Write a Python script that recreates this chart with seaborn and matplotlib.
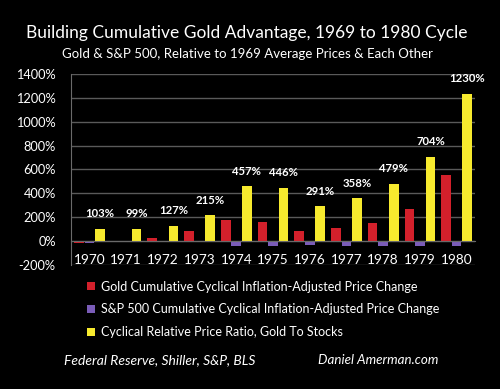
import pandas as pd
import seaborn as sns
import matplotlib.pyplot as plt
from matplotlib.ticker import FuncFormatter, FixedLocator

years = ['1970', '1971', '1972', '1973', '1974', '1975', '1976', '1977', '1978', '1979', '1980']
gold = [-15, -12, 22, 88, 180, 160, 88, 112, 153, 266, 555]
sp500 = [-15, -5, -3, -5, -40, -40, -30, -40, -40, -40, -40]
ratio = [103, 99, 127, 215, 457, 446, 291, 358, 479, 704, 1230]

series_names = [
    'Gold Cumulative Cyclical Inflation-Adjusted Price Change',
    'S&P 500 Cumulative Cyclical Inflation-Adjusted Price Change',
    'Cyclical Relative Price Ratio, Gold To Stocks',
]
colors = ['#d3202b', '#7a5cb8', '#f7ea2e']

df = pd.DataFrame({'year': years, series_names[0]: gold,
                   series_names[1]: sp500, series_names[2]: ratio})
long_df = df.melt(id_vars='year', var_name='series', value_name='value')

sns.set_style('dark')
plt.rcParams['font.family'] = ['Lato', 'DejaVu Sans']

fig = plt.figure(figsize=(5, 3.89), dpi=100, facecolor='black')
ax = fig.add_axes([0.142, 0.319, 0.808, 0.491])
ax.set_facecolor('black')

sns.barplot(data=long_df, x='year', y='value', hue='series', hue_order=series_names,
            palette=colors, width=0.86, gap=0.08, ax=ax, legend=True,
            edgecolor='none', saturation=1)

ax.set_ylim(-200, 1400)
ax.set_yticks(range(-200, 1401, 200))
ax.yaxis.set_major_formatter(FuncFormatter(lambda v, p: f'{int(v)}%'))
ax.grid(axis='y', color='#5a5a5a', linewidth=1)
ax.grid(axis='x', visible=False)
ax.set_axisbelow(True)
ax.set_xlabel('')
ax.set_ylabel('')

for s in ['top', 'right']:
    ax.spines[s].set_visible(False)
ax.spines['left'].set_color('#6a6a6a')
ax.spines['bottom'].set_position(('data', 0))
ax.spines['bottom'].set_color('#6a6a6a')

ax.tick_params(axis='y', colors='white', labelsize=9.2, length=0, pad=11)
ax.tick_params(axis='x', colors='white', labelsize=9.8, length=0, pad=9)
ax.xaxis.set_minor_locator(FixedLocator([i - 0.5 for i in range(len(years) + 1)]))
ax.tick_params(axis='x', which='minor', length=3, color='#6a6a6a', direction='out')

# value labels above the ratio bars
ratio_bars = ax.containers[2]
ax.bar_label(ratio_bars, labels=[f'{v}%' for v in ratio], color='white',
             fontsize=8.2, fontweight='bold', padding=7)

handles, labels = ax.get_legend_handles_labels()
ax.legend(handles, labels, loc='upper left', bbox_to_anchor=(0.152, 0.307),
          bbox_transform=fig.transFigure, frameon=False, labelcolor='white',
          fontsize=9, handlelength=0.6, handleheight=0.6, handletextpad=0.5,
          labelspacing=0.85)

fig.text(0.494, 0.915, 'Building Cumulative Gold Advantage, 1969 to 1980 Cycle',
         color='white', fontsize=12.5, ha='center', va='center')
fig.text(0.494, 0.862, 'Gold & S&P 500, Relative to 1969 Average Prices & Each Other',
         color='white', fontsize=9.5, ha='center', va='center')
fig.text(0.128, 0.075, 'Federal Reserve, Shiller, S&P, BLS', color='white',
         fontsize=10, style='italic', ha='left', va='center')
fig.text(0.636, 0.075, 'Daniel Amerman.com', color='white',
         fontsize=9.6, style='italic', ha='left', va='center')

fig.savefig('out.png', dpi=100, facecolor='black')
